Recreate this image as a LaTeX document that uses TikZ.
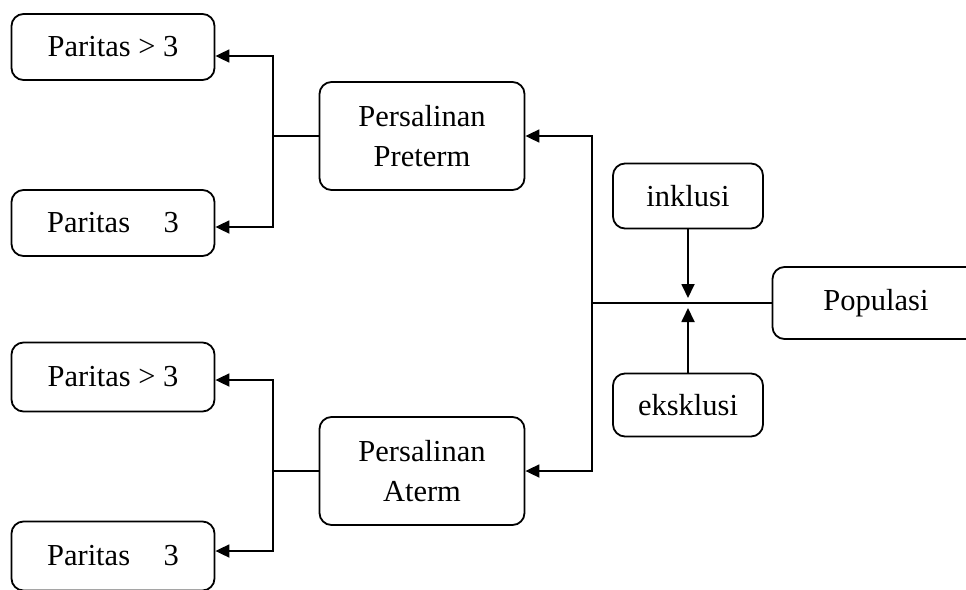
\documentclass[tikz,border=0pt]{standalone}
\usepackage{fontspec}
\setmainfont{Liberation Serif}
\usetikzlibrary{arrows.meta,calc}

\begin{document}
\begin{tikzpicture}[x=1pt,y=-1pt,>={Triangle[length=14pt,width=13pt]},line width=1.8pt,
box/.style={draw,rounded corners=12pt,minimum width=203pt,minimum height=66pt,align=center,
font=\fontsize{30.5}{40}\selectfont}]
\useasboundingbox (0,0) rectangle (966,589);
\clip (0,0) rectangle (966,589);

\node[box] (p1) at (113,47) {Paritas > 3};
\node[box] (p2) at (113,223) {Paritas\hspace{1.1em}3};
\node[box,minimum height=69pt] (p3) at (113,377) {Paritas > 3};
\node[box,minimum height=69pt] (p4) at (113,556) {Paritas\hspace{1.1em}3};

\node[box,minimum width=205pt,minimum height=108pt] (pre) at (422,136) {Persalinan\\Preterm};
\node[box,minimum width=205pt,minimum height=108pt] (ate) at (422,471) {Persalinan\\Aterm};

\node[box,minimum width=150pt,minimum height=65pt] (ink) at (688,196) {inklusi};
\node[box,minimum width=150pt,minimum height=63pt] (eks) at (688,405) {eksklusi};
\node[box,minimum width=207pt,minimum height=72pt] (pop) at (876,303) {Populasi};

\coordinate (jr) at (592,303);
\coordinate (jt) at (273,136);
\coordinate (jb) at (273,471);

\draw (pop.west) -- (jr);
\draw[->] (jr) |- (pre.east);
\draw[->] (jr) |- (ate.east);
\draw[->,shorten >=5pt] (ink) -- (ink |- jr);
\draw[->,shorten >=5pt] (eks) -- (eks |- jr);

\draw (pre.west) -- (jt);
\draw[->] (jt) |- ($(p1.east)+(0,9)$);
\draw[->] (jt) |- ($(p2.east)+(0,4)$);
\draw (ate.west) -- (jb);
\draw[->] (jb) |- ($(p3.east)+(0,3)$);
\draw[->] (jb) |- ($(p4.east)+(0,-5)$);

\end{tikzpicture}
\end{document}
